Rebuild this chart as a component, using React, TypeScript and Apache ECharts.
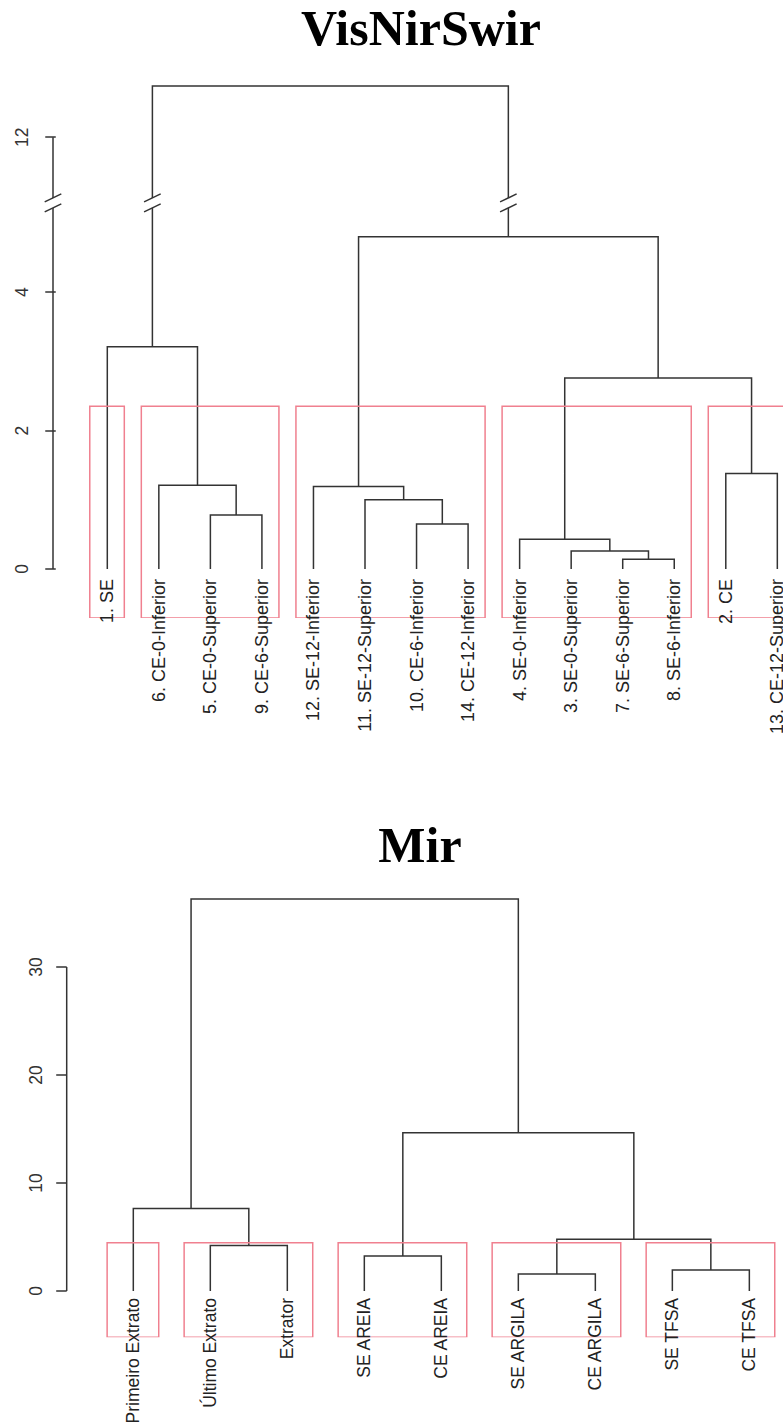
import React, { useEffect, useRef } from "react";
import * as echarts from "echarts";

// ---------- VisNirSwir dendrogram ----------
const visLeaves = [
  "1. SE",
  "6. CE-0-Inferior",
  "5. CE-0-Superior",
  "9. CE-6-Superior",
  "12. SE-12-Inferior",
  "11. SE-12-Superior",
  "10. CE-6-Inferior",
  "14. CE-12-Inferior",
  "4. SE-0-Inferior",
  "3. SE-0-Superior",
  "7. SE-6-Superior",
  "8. SE-6-Inferior",
  "2. CE",
  "13. CE-12-Superior",
];
// R-style merge table: negative = leaf position, positive = earlier merge
const visMerge = [
  [-3, -4], [-2, 1], [-1, 2], [-7, -8], [-6, 4], [-5, 5],
  [-11, -12], [-10, 7], [-9, 8], [-13, -14], [9, 10], [6, 11], [3, 12],
];
const visHeights = [0.78, 1.21, 3.21, 0.65, 1.0, 1.19, 0.14, 0.26, 0.43, 1.38, 2.76, 4.8, 12.74];
const visClusters = [[1, 1], [2, 4], [5, 8], [9, 12], [13, 14]];
const visCut = 2.35;
const visTicks = [0, 2, 4, 12];
const visBreak = [5.29, 11.05];
const visAxisRange = [0, 12];

// ---------- Mir dendrogram ----------
const mirLeaves = [
  "Primeiro Extrato",
  "Último Extrato",
  "Extrator",
  "SE AREIA",
  "CE AREIA",
  "SE ARGILA",
  "CE ARGILA",
  "SE TFSA",
  "CE TFSA",
];
const mirMerge = [[-6, -7], [-8, -9], [-4, -5], [-2, -3], [1, 2], [-1, 4], [3, 5], [6, 7]];
const mirHeights = [1.57, 1.94, 3.24, 4.2, 4.79, 7.63, 14.66, 36.3];
const mirClusters = [[1, 1], [2, 3], [4, 5], [6, 7], [8, 9]];
const mirCut = 4.47;
const mirTicks = [0, 10, 20, 30];
const mirAxisRange = [0, 30];

const LINE = "#333333";
const RED = "#f0808f";
const SANS = '"Liberation Sans", Arial, sans-serif';

function buildLinks(merge: number[][], heights: number[]) {
  const nx: number[] = [];
  const links: number[][] = [];
  const child = (c: number) => (c < 0 ? [-c, 0] : [nx[c - 1], heights[c - 1]]);
  merge.forEach(([a, b], i) => {
    const [xa, ha] = child(a);
    const [xb, hb] = child(b);
    nx[i] = (xa + xb) / 2;
    links.push([xa, ha, xb, hb, heights[i]]);
  });
  return links;
}

function breakPoints(links: number[][], br: number[], axisX: number) {
  const pts: number[][] = [[axisX]];
  links.forEach(([xa, ha, xb, hb, h]) => {
    if (ha < br[0] && h > br[1]) pts.push([xa]);
    if (hb < br[0] && h > br[1]) pts.push([xb]);
  });
  return pts;
}

function seriesFor(
  idx: number,
  leaves: string[],
  merge: number[][],
  heights: number[],
  clusters: number[][],
  cut: number,
  yMin: number,
  xMin: number,
  axisRange: number[],
  labelOffset: number,
  labelSize: number,
  br: number[] | null
) {
  const links = buildLinks(merge, heights);
  const out: any[] = [];
  out.push({
    type: "custom",
    name: "links" + idx,
    xAxisIndex: idx,
    yAxisIndex: idx,
    clip: false,
    data: links,
    renderItem: (_p: any, api: any) => {
      const p1 = api.coord([api.value(0), api.value(1)]);
      const p2 = api.coord([api.value(0), api.value(4)]);
      const p3 = api.coord([api.value(2), api.value(4)]);
      const p4 = api.coord([api.value(2), api.value(3)]);
      return {
        type: "polyline",
        shape: { points: [p1, p2, p3, p4] },
        style: { stroke: LINE, lineWidth: 1.5, fill: null },
      };
    },
  });
  out.push({
    type: "custom",
    name: "boxes" + idx,
    xAxisIndex: idx,
    yAxisIndex: idx,
    clip: true,
    data: clusters.map(([a, b]) => [a - 0.34, b + 0.33, cut]),
    renderItem: (_p: any, api: any) => {
      const tl = api.coord([api.value(0), api.value(2)]);
      const br2 = api.coord([api.value(1), yMin]);
      return {
        type: "rect",
        shape: { x: tl[0], y: tl[1], width: br2[0] - tl[0], height: br2[1] - tl[1] },
        style: { stroke: RED, lineWidth: 1.5, fill: null },
      };
    },
  });
  out.push({
    type: "custom",
    name: "labels" + idx,
    xAxisIndex: idx,
    yAxisIndex: idx,
    clip: false,
    data: leaves.map((_, i) => [i + 1, 0]),
    renderItem: (p: any, api: any) => {
      const pt = api.coord([api.value(0), 0]);
      return {
        type: "text",
        x: pt[0],
        y: pt[1] + labelOffset,
        rotation: Math.PI / 2,
        style: {
          text: leaves[p.dataIndex],
          fill: "#222",
          fontSize: labelSize,
          fontFamily: SANS,
          align: "right",
          verticalAlign: "middle",
        },
      };
    },
  });
  out.push({
    type: "custom",
    name: "axisline" + idx,
    xAxisIndex: idx,
    yAxisIndex: idx,
    clip: false,
    data: [[xMin, axisRange[0], axisRange[1]]],
    renderItem: (_p: any, api: any) => {
      const a = api.coord([api.value(0), api.value(1)]);
      const b = api.coord([api.value(0), api.value(2)]);
      return {
        type: "line",
        shape: { x1: a[0], y1: a[1], x2: b[0], y2: b[1] },
        style: { stroke: LINE, lineWidth: 1.5 },
      };
    },
  });
  if (br) {
    out.push({
      type: "custom",
      name: "breaks" + idx,
      xAxisIndex: idx,
      yAxisIndex: idx,
      clip: false,
      z: 5,
      data: breakPoints(links, br, xMin),
      renderItem: (_p: any, api: any) => {
        const c = api.coord([api.value(0), br[0]]);
        const cx = c[0];
        const cy = c[1];
        return {
          type: "group",
          children: [
            {
              type: "polygon",
              shape: {
                points: [
                  [cx - 8, cy - 1],
                  [cx + 8, cy - 9],
                  [cx + 8, cy + 1],
                  [cx - 8, cy + 9],
                ],
              },
              style: { fill: "#fff", stroke: null },
            },
            {
              type: "line",
              shape: { x1: cx - 8.3, y1: cy - 1, x2: cx + 8.3, y2: cy - 9 },
              style: { stroke: LINE, lineWidth: 1.5 },
            },
            {
              type: "line",
              shape: { x1: cx - 8.3, y1: cy + 9, x2: cx + 8.3, y2: cy + 1 },
              style: { stroke: LINE, lineWidth: 1.5 },
            },
          ],
        };
      },
    });
  }
  return out;
}

const TOP = { left: 53, top: 68, width: 730, height: 550, xMin: -0.0535, xMax: 14.11, yMin: -0.71, yMax: 13 };
const BOT = { left: 66.7, top: 880.6, width: 716.3, height: 456.7, xMin: 0.135, xMax: 9.437, yMin: -4.29, yMax: 38 };

function yAxisCfg(gridIndex: number, g: any, ticks: number[], extra: any) {
  return {
    gridIndex,
    type: "value",
    min: g.yMin,
    max: g.yMax,
    axisLine: { show: false },
    splitLine: { show: false },
    axisTick: { show: true, length: 10.5, customValues: ticks, lineStyle: { color: LINE, width: 1.5 } },
    axisLabel: {
      customValues: ticks,
      rotate: 90,
      margin: 22,
      fontSize: 17.5,
      color: "#333",
      fontFamily: SANS,
    },
    ...extra,
  };
}

export default function App() {
  const ref = useRef<HTMLDivElement>(null);
  useEffect(() => {
    document.body.style.margin = "0";
    const chart = echarts.init(ref.current!, null, { renderer: "svg" });
    const option: any = {
      animation: false,
      backgroundColor: "#fff",
      grid: [
        { left: TOP.left, top: TOP.top, width: TOP.width, height: TOP.height },
        { left: BOT.left, top: BOT.top, width: BOT.width, height: BOT.height },
      ],
      xAxis: [
        { gridIndex: 0, type: "value", min: TOP.xMin, max: TOP.xMax, show: false },
        { gridIndex: 1, type: "value", min: BOT.xMin, max: BOT.xMax, show: false },
      ],
      yAxis: [
        yAxisCfg(0, TOP, visTicks, {
          breaks: [{ start: visBreak[0], end: visBreak[1], gap: 0 }],
          breakArea: { show: false },
        }),
        yAxisCfg(1, BOT, mirTicks, {}),
      ],
      graphic: [
        {
          type: "text",
          x: 421,
          y: 28,
          style: {
            text: "VisNirSwir",
            fontSize: 50,
            fontWeight: "bold",
            fontFamily: '"Liberation Serif", "Times New Roman", serif',
            fill: "#000",
            align: "center",
            verticalAlign: "middle",
          },
        },
        {
          type: "text",
          x: 420,
          y: 845,
          style: {
            text: "Mir",
            fontSize: 50,
            fontWeight: "bold",
            fontFamily: '"Liberation Serif", "Times New Roman", serif',
            fill: "#000",
            align: "center",
            verticalAlign: "middle",
          },
        },
      ],
      series: [
        ...seriesFor(0, visLeaves, visMerge, visHeights, visClusters, visCut, TOP.yMin, TOP.xMin, visAxisRange, 10, 18, visBreak),
        ...seriesFor(1, mirLeaves, mirMerge, mirHeights, mirClusters, mirCut, BOT.yMin, BOT.xMin, mirAxisRange, 7, 17.5, null),
      ],
    };
    chart.setOption(option);
    return () => chart.dispose();
  }, []);
  return <div ref={ref} style={{ width: 783, height: 1422 }} />;
}
